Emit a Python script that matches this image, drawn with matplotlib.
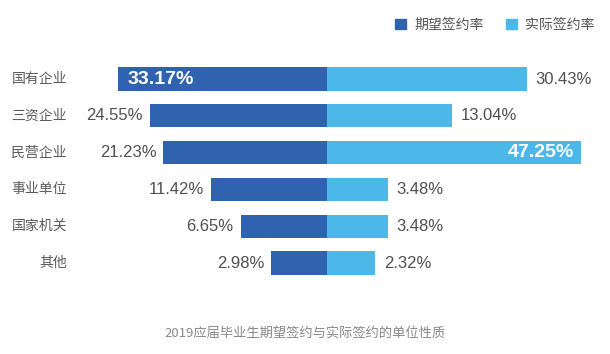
import numpy as np
import matplotlib
matplotlib.use('Agg')
import matplotlib.pyplot as plt
import matplotlib.transforms as mtransforms
from matplotlib.patches import Patch

plt.rcParams['font.family'] = ['Noto Sans CJK SC', 'DejaVu Sans']

# data
categories = ['国有企业', '三资企业', '民营企业', '事业单位', '国家机关', '其他']
expected = [33.17, 24.55, 21.23, 11.42, 6.65, 2.98]   # 期望签约率
actual = [30.43, 13.04, 47.25, 3.48, 3.48, 2.32]      # 实际签约率
inside_left = [True, False, False, False, False, False]
inside_right = [False, False, True, False, False, False]

c_dark = '#2f63b0'
c_light = '#4cb8ea'
c_text = '#505050'

# original bars are not linear in value -> compressed scale
P = 0.55
K = 30.5  # px per transformed unit


def fwd(x):
    x = np.asarray(x, dtype=float)
    return np.sign(x) * np.abs(x) ** P


def inv(y):
    y = np.asarray(y, dtype=float)
    return np.sign(y) * np.abs(y) ** (1 / P)


W, H = 610, 354
fig = plt.figure(figsize=(W / 100, H / 100), dpi=100)
ax = fig.add_axes([0, 0, 1, 1])
ax.set_xscale('function', functions=(fwd, inv))

cx = 327
ax.set_xlim(float(inv(-cx / K)), float(inv((W - cx) / K)))
row0, step = 79, 36.8
ax.set_ylim((H - row0) / step, -row0 / step)

y = np.arange(len(categories))
ax.barh(y, [-v for v in expected], height=0.63, color=c_dark, left=0)
ax.barh(y, actual, height=0.63, color=c_light, left=0)

num_font = ['Liberation Sans', 'DejaVu Sans']
lab_tr = mtransforms.blended_transform_factory(fig.transFigure, ax.transData)
for i, cat in enumerate(categories):
    ax.text(67 / W, i, cat, transform=lab_tr, ha='right', va='center',
            fontsize=10, color='#5a5a5a')

    e = expected[i]
    if inside_left[i]:
        ax.annotate(f'{e:.2f}%', (-e, i), xytext=(7, 0), textcoords='offset points',
                    ha='left', va='center', fontsize=14, fontweight='bold',
                    color='white', family=num_font)
    else:
        ax.annotate(f'{e:.2f}%', (-e, i), xytext=(-5, 0), textcoords='offset points',
                    ha='right', va='center', fontsize=12, color=c_text, family=num_font)

    a = actual[i]
    if inside_right[i]:
        ax.annotate(f'{a:.2f}%', (a, i), xytext=(-5, 0), textcoords='offset points',
                    ha='right', va='center', fontsize=14, fontweight='bold',
                    color='white', family=num_font)
    else:
        ax.annotate(f'{a:.2f}%', (a, i), xytext=(6, 0), textcoords='offset points',
                    ha='left', va='center', fontsize=12, color=c_text, family=num_font)

ax.axis('off')

# legend
handles = [Patch(color=c_dark, label='期望签约率'), Patch(color=c_light, label='实际签约率')]
fig.legend(handles=handles, loc='upper right', bbox_to_anchor=(0.995, 0.985), ncol=2,
           frameon=False, fontsize=10, handlelength=0.8, handleheight=0.8,
           handletextpad=0.6, columnspacing=1.6, labelcolor='#555555')

fig.text(305 / W, 1 - 333 / H, '2019应届毕业生期望签约与实际签约的单位性质',
         ha='center', va='center', fontsize=9.5, color='#888888')

fig.savefig('out.png', dpi=100)
